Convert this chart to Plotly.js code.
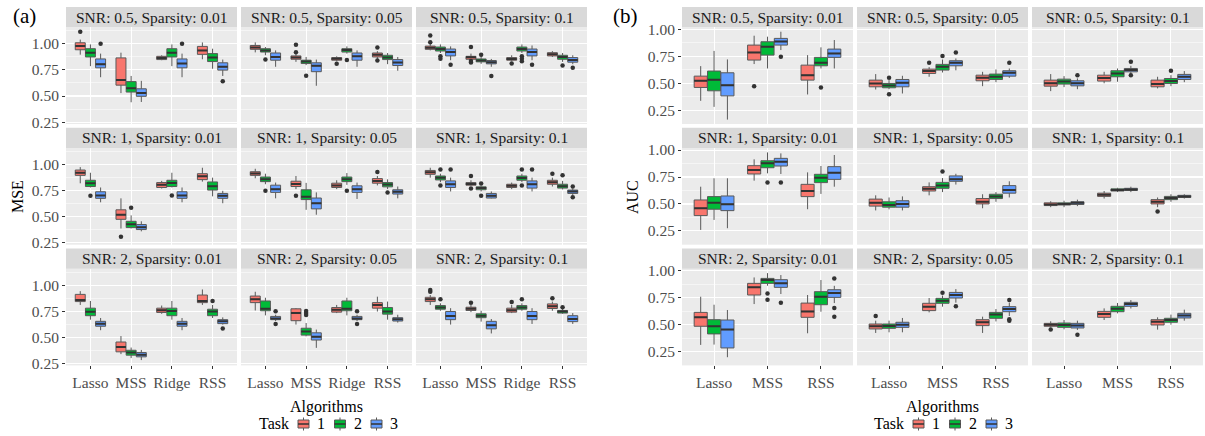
<!DOCTYPE html>
<html>
<head>
<meta charset="utf-8">
<script src="https://cdn.plot.ly/plotly-3.0.1.min.js"></script>
<style>html,body{margin:0;padding:0;background:#fff}</style>
</head>
<body>
<div id="chart" style="width:1205px;height:436px"></div>
<script>
// ---- categories ----
const TASKS = [1, 2, 3];
const TASK_COLORS = ['#F8766D', '#00BA38', '#619CFF'];
const MSE_ALGS = ['Lasso', 'MSS', 'Ridge', 'RSS'];
const AUC_ALGS = ['Lasso', 'MSS', 'RSS'];
const SNR_LEVELS = ['0.5', '1', '2'];
const SPARSITY_LEVELS = ['0.01', '0.05', '0.1'];
const Y_TICKS = [0.25, 0.5, 0.75, 1.0];
const Y_TICK_TEXT = ['0.25', '0.50', '0.75', '1.00'];

// ---- box statistics ----
// row: algorithm, task, lower whisker, q1, median, q3, upper whisker, outliers

// MSE
const mse_snr05_sp001 = [
  ['Lasso', 1, 0.896, 0.943, 0.978, 1.010, 1.040, [1.116]],
  ['Lasso', 2, 0.786, 0.874, 0.915, 0.953, 0.994, []],
  ['Lasso', 3, 0.680, 0.770, 0.805, 0.855, 0.906, [1.000]],
  ['MSS', 1, 0.528, 0.604, 0.654, 0.865, 0.915, []],
  ['MSS', 2, 0.440, 0.538, 0.575, 0.638, 0.692, []],
  ['MSS', 3, 0.443, 0.497, 0.528, 0.569, 0.645, []],
  ['Ridge', 1, 0.843, 0.849, 0.865, 0.880, 0.890, []],
  ['Ridge', 2, 0.786, 0.874, 0.915, 0.953, 0.994, []],
  ['Ridge', 3, 0.680, 0.770, 0.811, 0.855, 0.906, [1.000]],
  ['RSS', 1, 0.852, 0.899, 0.937, 0.975, 1.013, []],
  ['RSS', 2, 0.761, 0.830, 0.868, 0.906, 0.953, []],
  ['RSS', 3, 0.692, 0.748, 0.780, 0.818, 0.849, [0.642]]
];
const mse_snr05_sp005 = [
  ['Lasso', 1, 0.918, 0.947, 0.965, 0.984, 1.013, []],
  ['Lasso', 2, 0.890, 0.921, 0.937, 0.953, 0.969, [0.849]],
  ['Lasso', 3, 0.780, 0.843, 0.874, 0.912, 0.937, []],
  ['MSS', 1, 0.827, 0.852, 0.868, 0.884, 0.906, [0.990, 0.918]],
  ['MSS', 2, 0.796, 0.811, 0.830, 0.843, 0.874, [0.695]],
  ['MSS', 3, 0.598, 0.733, 0.789, 0.818, 0.849, []],
  ['Ridge', 1, 0.833, 0.843, 0.858, 0.868, 0.880, [0.808]],
  ['Ridge', 2, 0.906, 0.921, 0.940, 0.953, 0.975, [0.846]],
  ['Ridge', 3, 0.780, 0.843, 0.880, 0.912, 0.937, []],
  ['RSS', 1, 0.855, 0.874, 0.896, 0.912, 0.930, [0.965, 0.840]],
  ['RSS', 2, 0.805, 0.849, 0.868, 0.890, 0.912, []],
  ['RSS', 3, 0.742, 0.792, 0.820, 0.849, 0.874, []]
];
const mse_snr05_sp01 = [
  ['Lasso', 1, 0.937, 0.947, 0.962, 0.978, 1.000, [1.079, 1.016]],
  ['Lasso', 2, 0.912, 0.931, 0.950, 0.969, 0.994, [0.880, 0.858]],
  ['Lasso', 3, 0.843, 0.884, 0.921, 0.950, 0.975, [0.800]],
  ['MSS', 1, 0.850, 0.852, 0.871, 0.880, 0.906, [0.969, 0.835, 0.821]],
  ['MSS', 2, 0.808, 0.827, 0.840, 0.855, 0.880, [0.896]],
  ['MSS', 3, 0.780, 0.808, 0.824, 0.840, 0.855, [0.692]],
  ['Ridge', 1, 0.833, 0.843, 0.855, 0.868, 0.890, [0.812]],
  ['Ridge', 2, 0.912, 0.931, 0.950, 0.969, 0.994, [0.880, 0.858, 0.833]],
  ['Ridge', 3, 0.843, 0.884, 0.921, 0.950, 0.984, [0.800]],
  ['RSS', 1, 0.874, 0.884, 0.900, 0.915, 0.930, []],
  ['RSS', 2, 0.827, 0.852, 0.874, 0.890, 0.912, [0.792]],
  ['RSS', 3, 0.805, 0.824, 0.846, 0.868, 0.890, [0.770]]
];
const mse_snr1_sp001 = [
  ['Lasso', 1, 0.820, 0.896, 0.921, 0.947, 0.975, []],
  ['Lasso', 2, 0.780, 0.789, 0.820, 0.849, 0.921, [0.700]],
  ['Lasso', 3, 0.638, 0.676, 0.704, 0.739, 0.780, []],
  ['MSS', 1, 0.387, 0.475, 0.519, 0.566, 0.676, [0.308]],
  ['MSS', 2, 0.387, 0.396, 0.428, 0.456, 0.513, [0.585]],
  ['MSS', 3, 0.360, 0.377, 0.400, 0.425, 0.456, []],
  ['Ridge', 1, 0.770, 0.780, 0.805, 0.827, 0.843, []],
  ['Ridge', 2, 0.780, 0.789, 0.824, 0.849, 0.921, [0.704]],
  ['Ridge', 3, 0.638, 0.676, 0.704, 0.739, 0.780, []],
  ['RSS', 1, 0.836, 0.855, 0.887, 0.912, 0.969, []],
  ['RSS', 2, 0.695, 0.755, 0.792, 0.833, 0.874, []],
  ['RSS', 3, 0.629, 0.676, 0.700, 0.723, 0.748, []]
];
const mse_snr1_sp005 = [
  ['Lasso', 1, 0.868, 0.896, 0.915, 0.931, 0.959, []],
  ['Lasso', 2, 0.811, 0.836, 0.858, 0.880, 0.912, [0.748]],
  ['Lasso', 3, 0.676, 0.733, 0.764, 0.802, 0.827, []],
  ['MSS', 1, 0.764, 0.789, 0.814, 0.840, 0.890, [0.700]],
  ['MSS', 2, 0.566, 0.664, 0.692, 0.758, 0.824, []],
  ['MSS', 3, 0.519, 0.575, 0.629, 0.679, 0.733, []],
  ['Ridge', 1, 0.764, 0.780, 0.800, 0.821, 0.849, []],
  ['Ridge', 2, 0.805, 0.836, 0.858, 0.880, 0.918, [0.748]],
  ['Ridge', 3, 0.670, 0.733, 0.764, 0.796, 0.827, []],
  ['RSS', 1, 0.800, 0.821, 0.843, 0.865, 0.890, [0.928]],
  ['RSS', 2, 0.764, 0.786, 0.808, 0.827, 0.858, [0.733]],
  ['RSS', 3, 0.676, 0.717, 0.739, 0.758, 0.789, []]
];
const mse_snr1_sp01 = [
  ['Lasso', 1, 0.874, 0.906, 0.925, 0.943, 0.969, []],
  ['Lasso', 2, 0.830, 0.852, 0.874, 0.890, 0.912, [0.953, 0.800]],
  ['Lasso', 3, 0.742, 0.780, 0.811, 0.843, 0.874, [0.953]],
  ['MSS', 1, 0.796, 0.802, 0.814, 0.827, 0.849, [0.890, 0.770]],
  ['MSS', 2, 0.742, 0.758, 0.774, 0.786, 0.798, [0.817, 0.700]],
  ['MSS', 3, 0.676, 0.679, 0.700, 0.723, 0.742, []],
  ['Ridge', 1, 0.764, 0.780, 0.796, 0.811, 0.827, []],
  ['Ridge', 2, 0.830, 0.849, 0.871, 0.890, 0.912, [0.953, 0.800]],
  ['Ridge', 3, 0.742, 0.774, 0.811, 0.843, 0.874, [0.953]],
  ['RSS', 1, 0.789, 0.811, 0.830, 0.849, 0.874, [0.912]],
  ['RSS', 2, 0.761, 0.774, 0.792, 0.811, 0.843, [0.896]],
  ['RSS', 3, 0.708, 0.723, 0.742, 0.755, 0.770, [0.789, 0.686]]
];
const mse_snr2_sp001 = [
  ['Lasso', 1, 0.811, 0.843, 0.858, 0.912, 0.943, []],
  ['Lasso', 2, 0.670, 0.708, 0.745, 0.780, 0.849, []],
  ['Lasso', 3, 0.569, 0.607, 0.632, 0.654, 0.686, []],
  ['MSS', 1, 0.340, 0.362, 0.409, 0.456, 0.513, []],
  ['MSS', 2, 0.302, 0.330, 0.355, 0.377, 0.403, []],
  ['MSS', 3, 0.283, 0.314, 0.333, 0.355, 0.380, []],
  ['Ridge', 1, 0.726, 0.739, 0.761, 0.780, 0.805, []],
  ['Ridge', 2, 0.670, 0.708, 0.752, 0.780, 0.849, []],
  ['Ridge', 3, 0.569, 0.607, 0.632, 0.654, 0.686, []],
  ['RSS', 1, 0.811, 0.833, 0.849, 0.906, 0.959, []],
  ['RSS', 2, 0.686, 0.708, 0.748, 0.770, 0.811, [0.849]],
  ['RSS', 3, 0.623, 0.632, 0.654, 0.670, 0.692, [0.585]]
];
const mse_snr2_sp005 = [
  ['Lasso', 1, 0.758, 0.833, 0.865, 0.896, 0.937, []],
  ['Lasso', 2, 0.711, 0.755, 0.774, 0.849, 0.880, []],
  ['Lasso', 3, 0.657, 0.670, 0.682, 0.701, 0.717, [0.751, 0.629]],
  ['MSS', 1, 0.623, 0.660, 0.733, 0.774, 0.780, []],
  ['MSS', 2, 0.510, 0.522, 0.557, 0.588, 0.638, [0.752, 0.733, 0.714]],
  ['MSS', 3, 0.400, 0.475, 0.506, 0.544, 0.575, []],
  ['Ridge', 1, 0.733, 0.742, 0.764, 0.786, 0.811, []],
  ['Ridge', 2, 0.711, 0.755, 0.774, 0.849, 0.880, []],
  ['Ridge', 3, 0.657, 0.670, 0.682, 0.701, 0.717, [0.751, 0.629]],
  ['RSS', 1, 0.748, 0.780, 0.811, 0.833, 0.890, []],
  ['RSS', 2, 0.670, 0.723, 0.748, 0.786, 0.843, []],
  ['RSS', 3, 0.642, 0.657, 0.673, 0.689, 0.717, []]
];
const mse_snr2_sp01 = [
  ['Lasso', 1, 0.811, 0.843, 0.865, 0.884, 0.906, [0.953, 0.937]],
  ['Lasso', 2, 0.755, 0.770, 0.786, 0.805, 0.827, [0.865]],
  ['Lasso', 3, 0.623, 0.670, 0.704, 0.748, 0.780, []],
  ['MSS', 1, 0.742, 0.758, 0.774, 0.789, 0.811, [0.833]],
  ['MSS', 2, 0.651, 0.689, 0.707, 0.726, 0.755, []],
  ['MSS', 3, 0.538, 0.582, 0.616, 0.654, 0.676, []],
  ['Ridge', 1, 0.733, 0.742, 0.761, 0.780, 0.811, [0.840]],
  ['Ridge', 2, 0.755, 0.770, 0.786, 0.805, 0.827, [0.865]],
  ['Ridge', 3, 0.629, 0.670, 0.704, 0.748, 0.780, []],
  ['RSS', 1, 0.755, 0.777, 0.799, 0.821, 0.843, [0.874]],
  ['RSS', 2, 0.726, 0.733, 0.748, 0.758, 0.775, [0.789]],
  ['RSS', 3, 0.629, 0.651, 0.676, 0.708, 0.733, []]
];

// AUC
const auc_snr05_sp001 = [
  ['Lasso', 1, 0.337, 0.461, 0.523, 0.566, 0.659, []],
  ['Lasso', 2, 0.281, 0.430, 0.532, 0.613, 0.800, []],
  ['Lasso', 3, 0.163, 0.383, 0.482, 0.597, 0.721, []],
  ['MSS', 1, 0.678, 0.715, 0.786, 0.854, 0.941, [0.473]],
  ['MSS', 2, 0.637, 0.761, 0.839, 0.885, 0.932, []],
  ['MSS', 3, 0.808, 0.854, 0.888, 0.916, 0.978, [0.746]],
  ['RSS', 1, 0.396, 0.529, 0.575, 0.668, 0.761, []],
  ['RSS', 2, 0.637, 0.662, 0.690, 0.740, 0.833, [0.461]],
  ['RSS', 3, 0.637, 0.740, 0.777, 0.817, 0.901, []]
];
const auc_snr05_sp005 = [
  ['Lasso', 1, 0.442, 0.467, 0.498, 0.529, 0.585, []],
  ['Lasso', 2, 0.445, 0.458, 0.479, 0.498, 0.529, [0.551, 0.399]],
  ['Lasso', 3, 0.405, 0.467, 0.504, 0.535, 0.569, []],
  ['MSS', 1, 0.560, 0.591, 0.613, 0.631, 0.650, [0.690]],
  ['MSS', 2, 0.600, 0.622, 0.653, 0.675, 0.720, [0.752]],
  ['MSS', 3, 0.620, 0.662, 0.690, 0.709, 0.730, [0.786]],
  ['RSS', 1, 0.473, 0.523, 0.551, 0.575, 0.606, []],
  ['RSS', 2, 0.510, 0.535, 0.560, 0.585, 0.628, []],
  ['RSS', 3, 0.550, 0.566, 0.597, 0.616, 0.637, [0.690]]
];
const auc_snr05_sp01 = [
  ['Lasso', 1, 0.427, 0.473, 0.501, 0.529, 0.585, []],
  ['Lasso', 2, 0.464, 0.492, 0.517, 0.538, 0.566, []],
  ['Lasso', 3, 0.445, 0.476, 0.501, 0.523, 0.545, [0.575]],
  ['MSS', 1, 0.500, 0.520, 0.548, 0.575, 0.606, []],
  ['MSS', 2, 0.514, 0.560, 0.591, 0.616, 0.637, []],
  ['MSS', 3, 0.590, 0.606, 0.622, 0.637, 0.662, [0.700, 0.575]],
  ['RSS', 1, 0.452, 0.467, 0.492, 0.529, 0.560, []],
  ['RSS', 2, 0.473, 0.498, 0.520, 0.544, 0.575, [0.616]],
  ['RSS', 3, 0.510, 0.535, 0.560, 0.582, 0.613, []]
];
const auc_snr1_sp001 = [
  ['Lasso', 1, 0.259, 0.392, 0.460, 0.537, 0.660, []],
  ['Lasso', 2, 0.352, 0.451, 0.512, 0.568, 0.738, []],
  ['Lasso', 3, 0.275, 0.438, 0.497, 0.574, 0.738, []],
  ['MSS', 1, 0.716, 0.778, 0.815, 0.855, 0.914, []],
  ['MSS', 2, 0.784, 0.836, 0.877, 0.901, 0.978, [0.700]],
  ['MSS', 3, 0.778, 0.852, 0.892, 0.923, 0.969, [0.700]],
  ['RSS', 1, 0.451, 0.568, 0.620, 0.682, 0.793, []],
  ['RSS', 2, 0.593, 0.698, 0.744, 0.775, 0.852, []],
  ['RSS', 3, 0.660, 0.728, 0.790, 0.846, 0.954, []]
];
const auc_snr1_sp005 = [
  ['Lasso', 1, 0.440, 0.480, 0.510, 0.545, 0.580, []],
  ['Lasso', 2, 0.450, 0.470, 0.490, 0.520, 0.560, []],
  ['Lasso', 3, 0.440, 0.470, 0.500, 0.530, 0.570, []],
  ['MSS', 1, 0.580, 0.620, 0.640, 0.660, 0.700, []],
  ['MSS', 2, 0.610, 0.645, 0.670, 0.700, 0.740, [0.800]],
  ['MSS', 3, 0.680, 0.710, 0.730, 0.760, 0.780, []],
  ['RSS', 1, 0.460, 0.500, 0.520, 0.550, 0.590, []],
  ['RSS', 2, 0.520, 0.550, 0.570, 0.590, 0.610, []],
  ['RSS', 3, 0.560, 0.600, 0.630, 0.670, 0.710, []]
];
const auc_snr1_sp01 = [
  ['Lasso', 1, 0.470, 0.485, 0.495, 0.510, 0.525, []],
  ['Lasso', 2, 0.470, 0.490, 0.500, 0.510, 0.530, []],
  ['Lasso', 3, 0.480, 0.495, 0.510, 0.520, 0.540, []],
  ['MSS', 1, 0.550, 0.570, 0.585, 0.600, 0.620, []],
  ['MSS', 2, 0.610, 0.620, 0.630, 0.640, 0.650, []],
  ['MSS', 3, 0.610, 0.625, 0.635, 0.645, 0.660, []],
  ['RSS', 1, 0.470, 0.500, 0.520, 0.540, 0.560, [0.430]],
  ['RSS', 2, 0.520, 0.540, 0.555, 0.570, 0.590, []],
  ['RSS', 3, 0.550, 0.560, 0.570, 0.580, 0.590, []]
];
const auc_snr2_sp001 = [
  ['Lasso', 1, 0.312, 0.485, 0.568, 0.614, 0.759, []],
  ['Lasso', 2, 0.315, 0.414, 0.485, 0.546, 0.685, []],
  ['Lasso', 3, 0.198, 0.284, 0.454, 0.543, 0.636, []],
  ['MSS', 1, 0.691, 0.775, 0.846, 0.883, 0.938, []],
  ['MSS', 2, 0.861, 0.883, 0.914, 0.929, 0.978, [0.790, 0.731]],
  ['MSS', 3, 0.784, 0.846, 0.883, 0.917, 0.960, [0.704]],
  ['RSS', 1, 0.420, 0.568, 0.623, 0.700, 0.775, []],
  ['RSS', 2, 0.620, 0.685, 0.759, 0.806, 0.914, []],
  ['RSS', 3, 0.700, 0.753, 0.793, 0.824, 0.860, [0.929, 0.654, 0.574]]
];
const auc_snr2_sp005 = [
  ['Lasso', 1, 0.423, 0.460, 0.485, 0.506, 0.537, [0.580]],
  ['Lasso', 2, 0.429, 0.466, 0.488, 0.506, 0.537, []],
  ['Lasso', 3, 0.429, 0.475, 0.500, 0.522, 0.562, []],
  ['MSS', 1, 0.614, 0.630, 0.667, 0.698, 0.747, []],
  ['MSS', 2, 0.667, 0.698, 0.722, 0.744, 0.770, [0.795]],
  ['MSS', 3, 0.704, 0.747, 0.775, 0.799, 0.830, [0.670]],
  ['RSS', 1, 0.423, 0.491, 0.522, 0.546, 0.574, []],
  ['RSS', 2, 0.530, 0.559, 0.593, 0.614, 0.645, []],
  ['RSS', 3, 0.580, 0.620, 0.645, 0.667, 0.704, [0.728, 0.550, 0.537]]
];
const auc_snr2_sp01 = [
  ['Lasso', 1, 0.475, 0.485, 0.500, 0.512, 0.531, [0.454]],
  ['Lasso', 2, 0.457, 0.475, 0.497, 0.515, 0.543, []],
  ['Lasso', 3, 0.451, 0.469, 0.491, 0.512, 0.537, [0.407]],
  ['MSS', 1, 0.543, 0.568, 0.599, 0.623, 0.651, []],
  ['MSS', 2, 0.605, 0.620, 0.648, 0.670, 0.701, []],
  ['MSS', 3, 0.650, 0.670, 0.691, 0.707, 0.728, []],
  ['RSS', 1, 0.454, 0.497, 0.528, 0.546, 0.568, []],
  ['RSS', 2, 0.500, 0.522, 0.543, 0.559, 0.593, []],
  ['RSS', 3, 0.537, 0.562, 0.586, 0.605, 0.639, []]
];

// facet grids: rows = SNR, columns = Sparsity
const MSE_FACETS = [
  [mse_snr05_sp001, mse_snr05_sp005, mse_snr05_sp01],
  [mse_snr1_sp001, mse_snr1_sp005, mse_snr1_sp01],
  [mse_snr2_sp001, mse_snr2_sp005, mse_snr2_sp01]
];
const AUC_FACETS = [
  [auc_snr05_sp001, auc_snr05_sp005, auc_snr05_sp01],
  [auc_snr1_sp001, auc_snr1_sp005, auc_snr1_sp01],
  [auc_snr2_sp001, auc_snr2_sp005, auc_snr2_sp01]
];

// ---- layout geometry (pixels) ----
const W = 1205, H = 436;
const FONT = 'Liberation Serif, Times New Roman, serif';
const DODGE = 0.25;
const OUTLINE = '#595959';

const PANELS = [
  { tag: '(a)', tagX: 24, ytitle: 'MSE', ytitleX: 17, algs: MSE_ALGS, facets: MSE_FACETS,
    yrange: [0.232, 1.158], minor: [0.375, 0.625, 0.875, 1.125],
    cols: [[66, 237], [241, 412], [416, 587]], legendX: 257 },
  { tag: '(b)', tagX: 625, ytitle: 'AUC', ytitleX: 632, algs: AUC_ALGS, facets: AUC_FACETS,
    yrange: [0.122, 1.019], minor: [0.125, 0.375, 0.625, 0.875],
    cols: [[682, 853], [857, 1028], [1032, 1203]], legendX: 872 }
];

const px = x => x / W;
const py = y => 1 - y / H;

const traces = [];
const shapes = [];
const annotations = [];
const layout = {
  width: W, height: H,
  margin: { l: 0, r: 0, t: 0, b: 0 },
  paper_bgcolor: '#FFFFFF',
  plot_bgcolor: '#EBEBEB',
  font: { family: FONT, size: 15, color: '#1A1A1A' },
  hovermode: false,
  showlegend: false
};

const textAnn = (x, y, text, size, color, extra) => Object.assign({
  xref: 'paper', yref: 'paper', x: px(x), y: py(y),
  xanchor: 'center', yanchor: 'middle', showarrow: false,
  text: text, font: { family: FONT, size: size, color: color }
}, extra || {});

let k = 0;
PANELS.forEach((P) => {
  for (let i = 0; i < 3; i++) {
    for (let j = 0; j < 3; j++) {
      k++;
      const sfx = k === 1 ? '' : String(k);
      const xa = 'x' + sfx, ya = 'y' + sfx;
      const stripTop = 7 + i * 120.7;
      const top = stripTop + 20.3;
      const bottom = stripTop + 117;
      const [x0, x1] = P.cols[j];
      const nAlg = P.algs.length;
      const bottomRow = i === 2, leftCol = j === 0;

      layout['xaxis' + sfx] = {
        domain: [px(x0), px(x1)], anchor: ya,
        range: [0.4, nAlg + 0.6],
        tickmode: 'array', tickvals: P.algs.map((_, a) => a + 1), ticktext: P.algs,
        showticklabels: bottomRow, ticks: bottomRow ? 'outside' : '',
        ticklen: 3, tickwidth: 1, tickcolor: '#333333',
        tickfont: { family: FONT, size: 15.5, color: '#4D4D4D' },
        showgrid: true, gridcolor: '#FFFFFF', gridwidth: 1.1,
        zeroline: false, showline: false, fixedrange: true
      };
      layout['yaxis' + sfx] = {
        domain: [py(bottom), py(top)], anchor: xa,
        range: P.yrange,
        tickmode: 'array', tickvals: Y_TICKS, ticktext: Y_TICK_TEXT,
        showticklabels: leftCol, ticks: leftCol ? 'outside' : '',
        ticklen: 3, tickwidth: 1, tickcolor: '#333333',
        tickfont: { family: FONT, size: 15.5, color: '#4D4D4D' },
        showgrid: true, gridcolor: '#FFFFFF', gridwidth: 1.1,
        minor: { tickmode: 'array', tickvals: P.minor, showgrid: true, gridcolor: '#FFFFFF', gridwidth: 0.5, ticks: '' },
        zeroline: false, showline: false, fixedrange: true
      };

      // facet strip
      shapes.push({
        type: 'rect', xref: 'paper', yref: 'paper',
        x0: px(x0), x1: px(x1), y0: py(top), y1: py(stripTop),
        fillcolor: '#D9D9D9', line: { width: 0 }, layer: 'below'
      });
      annotations.push(textAnn((x0 + x1) / 2, (stripTop + top) / 2,
        `SNR: ${SNR_LEVELS[i]}, Sparsity: ${SPARSITY_LEVELS[j]}`, 15.5, '#1A1A1A'));

      const rows = P.facets[i][j];
      const medX = [], medY = [], outX = [], outY = [];
      TASKS.forEach((t, ti) => {
        const r = rows.filter(d => d[1] === t);
        const pos = r.map(d => P.algs.indexOf(d[0]) + 1 + (t - 2) * DODGE);
        traces.push({
          type: 'box', xaxis: xa, yaxis: ya,
          x: pos,
          lowerfence: r.map(d => d[2]), q1: r.map(d => d[3]), median: r.map(d => d[4]),
          q3: r.map(d => d[5]), upperfence: r.map(d => d[6]),
          width: DODGE * 0.98, whiskerwidth: 0, boxpoints: false,
          fillcolor: TASK_COLORS[ti], line: { color: OUTLINE, width: 1 },
          name: String(t), showlegend: false, hoverinfo: 'skip'
        });
        r.forEach((d, n) => {
          medX.push(pos[n] - DODGE * 0.49, pos[n] + DODGE * 0.49, null);
          medY.push(d[4], d[4], null);
          d[7].forEach(v => { outX.push(pos[n]); outY.push(v); });
        });
      });
      // heavier median bars
      traces.push({
        type: 'scatter', mode: 'lines', xaxis: xa, yaxis: ya,
        x: medX, y: medY, line: { color: '#333333', width: 2 },
        showlegend: false, hoverinfo: 'skip'
      });
      // outlying observations
      traces.push({
        type: 'scatter', mode: 'markers', xaxis: xa, yaxis: ya,
        x: outX, y: outY, marker: { color: '#333333', size: 4.5 },
        showlegend: false, hoverinfo: 'skip'
      });
    }
  }

  // panel tag, axis titles
  annotations.push(textAnn(P.tagX, 16, P.tag, 21, '#000000'));
  annotations.push(textAnn(P.ytitleX, 197, P.ytitle, 16, '#000000', { textangle: -90 }));
  annotations.push(textAnn((P.cols[0][0] + P.cols[2][1]) / 2, 407, 'Algorithms', 16, '#000000'));

  // fill legend: title, then one boxplot key per task
  annotations.push(textAnn(P.legendX, 423.5, 'Task', 16, '#000000', { xanchor: 'left' }));
  TASKS.forEach((t, ti) => {
    const cx = P.legendX + 46.5 + ti * 36.5;
    shapes.push({ type: 'line', xref: 'paper', yref: 'paper', x0: px(cx), x1: px(cx),
      y0: py(417.5), y1: py(430.5), line: { color: OUTLINE, width: 1 } });
    shapes.push({ type: 'rect', xref: 'paper', yref: 'paper', x0: px(cx - 5.5), x1: px(cx + 5.5),
      y0: py(428), y1: py(420), fillcolor: TASK_COLORS[ti], line: { color: OUTLINE, width: 1 } });
    shapes.push({ type: 'line', xref: 'paper', yref: 'paper', x0: px(cx - 5.5), x1: px(cx + 5.5),
      y0: py(424), y1: py(424), line: { color: '#333333', width: 1.5 } });
    annotations.push(textAnn(cx + 17.5, 423, String(t), 16, '#000000'));
  });
});

layout.shapes = shapes;
layout.annotations = annotations;

Plotly.newPlot('chart', traces, layout, { staticPlot: true, displayModeBar: false });
</script>
</body>
</html>
